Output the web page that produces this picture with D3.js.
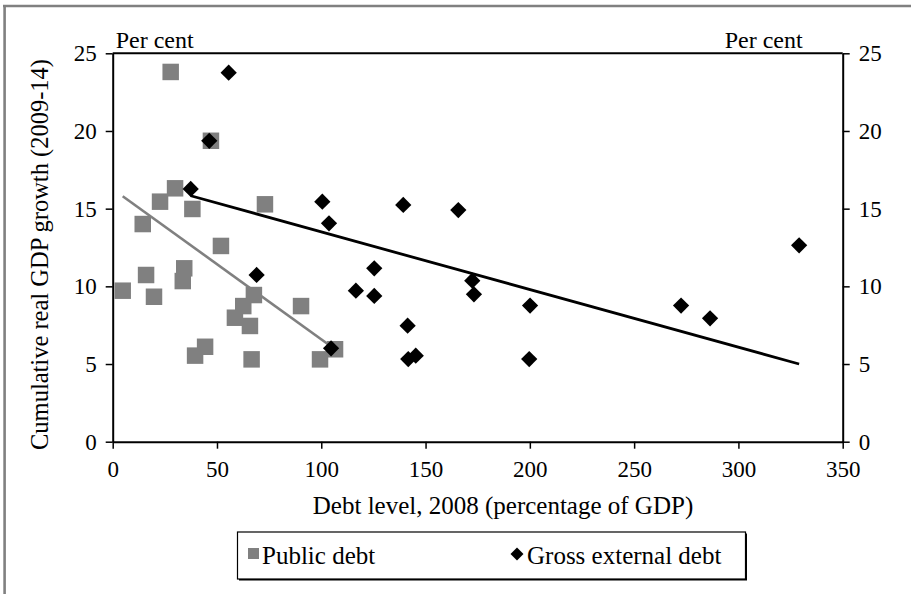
<!DOCTYPE html>
<html>
<head>
<meta charset="utf-8">
<script src="https://cdn.jsdelivr.net/npm/d3@7"></script>
<style>
  html, body { margin: 0; padding: 0; background: #fff; }
  svg { display: block; }
  text { font-family: "Liberation Serif", "Times New Roman", serif; fill: #000; }
</style>
</head>
<body>
<svg id="chart" width="911" height="594"></svg>
<script>
// ---- data ----
const publicDebtX = [4.8, 16.0, 19.8, 34.3, 33.6, 51.9, 67.7, 62.6, 58.6, 65.8, 90.3, 44.3, 39.5, 66.6, 99.4, 106.6, 27.8, 47.1, 29.9, 22.7, 38.2, 14.4, 73.0];
const publicDebtY = [9.72, 10.73, 9.33, 11.16, 10.34, 12.6, 9.44, 8.73, 7.98, 7.45, 8.73, 6.11, 5.54, 5.30, 5.30, 5.95, 23.8, 19.37, 16.31, 15.45, 14.98, 14.01, 15.28];
const externalDebtX = [55.6, 46.3, 37.4, 100.5, 103.7, 69.0, 104.7, 139.3, 165.7, 125.4, 116.6, 125.4, 172.4, 173.2, 200.1, 141.4, 141.7, 145.3, 199.7, 329.1, 272.5, 286.4];
const externalDebtY = [23.75, 19.37, 16.27, 15.45, 14.06, 10.73, 6.01, 15.24, 14.91, 11.16, 9.72, 9.38, 10.36, 9.49, 8.76, 7.47, 5.32, 5.54, 5.32, 12.64, 8.76, 7.94];
const publicTrendX = [4.8, 106.6];
const publicTrendY = [15.8, 5.95];
const externalTrendX = [37.4, 329.1];
const externalTrendY = [15.83, 5.0];
const xTicks = [0, 50, 100, 150, 200, 250, 300, 350];
const yTicks = [0, 5, 10, 15, 20, 25];
const xTitle = "Debt level, 2008 (percentage of GDP)";
const yTitle = "Cumulative real GDP growth (2009-14)";
const unitLabel = "Per cent";
const seriesNames = ["Public debt", "Gross external debt"];

// ---- layout ----
const svg = d3.select("#chart");
const L = 112.7, R = 842.7, T = 53.3, B = 441.7;
const x = d3.scaleLinear().domain([0, 350]).range([L, R]);
const y = d3.scaleLinear().domain([0, 25]).range([B, T]);
const grey = "#808080";

// outer frame (top and left edges visible)
svg.append("line").attr("x1", 3).attr("x2", 911).attr("y1", 6).attr("y2", 6)
  .attr("stroke", grey).attr("stroke-width", 2.6);
svg.append("line").attr("x1", 4.6).attr("x2", 4.6).attr("y1", 5).attr("y2", 594)
  .attr("stroke", grey).attr("stroke-width", 2.6);

const fs = 23;

// axes
const axStyle = g => {
  g.selectAll(".domain").attr("stroke", "#000").attr("stroke-width", 2);
  g.selectAll(".tick line").attr("stroke", "#000").attr("stroke-width", 1.5);
  g.selectAll(".tick text").attr("font-family", "Liberation Serif").attr("font-size", fs).attr("fill", "#000");
};
svg.append("g").attr("transform", `translate(0,${B})`)
  .call(d3.axisBottom(x).tickValues(xTicks).tickSize(7).tickPadding(12).tickSizeOuter(0))
  .call(axStyle);
svg.append("g").attr("transform", `translate(${L},0)`)
  .call(d3.axisLeft(y).tickValues(yTicks).tickSize(7).tickPadding(9).tickSizeOuter(0))
  .call(axStyle);
svg.append("g").attr("transform", `translate(${R},0)`)
  .call(d3.axisRight(y).tickValues(yTicks).tickSize(7).tickPadding(9).tickSizeOuter(0))
  .call(axStyle);
// top frame line
svg.append("line").attr("x1", L).attr("x2", R).attr("y1", T).attr("y2", T)
  .attr("stroke", "#000").attr("stroke-width", 2);

// unit labels
svg.append("text").attr("x", L + 3).attr("y", T - 5).attr("font-size", 24).text(unitLabel);
svg.append("text").attr("x", R - 40).attr("y", T - 5).attr("font-size", 24)
  .attr("text-anchor", "end").text(unitLabel);

// axis titles
svg.append("text").attr("x", 503).attr("y", 514).attr("font-size", 25)
  .attr("text-anchor", "middle").text(xTitle);
svg.append("text").attr("transform", `translate(48,${(T + B) / 2 + 7}) rotate(-90)`)
  .attr("font-size", 24.5).attr("text-anchor", "middle").text(yTitle);

// markers
const sq = d3.symbol().type(d3.symbolSquare).size(272);
const dm = d3.symbol().type(d3.symbolSquare).size(132);
const pubData = publicDebtX.map((v, i) => [v, publicDebtY[i]]);
const extData = externalDebtX.map((v, i) => [v, externalDebtY[i]]);

svg.append("g").selectAll("path").data(pubData).join("path")
  .attr("d", sq).attr("fill", grey)
  .attr("transform", d => `translate(${x(d[0])},${y(d[1])})`);

const line = d3.line().x(d => x(d[0])).y(d => y(d[1]));
svg.append("path").datum(publicTrendX.map((v, i) => [v, publicTrendY[i]]))
  .attr("d", line).attr("fill", "none").attr("stroke", grey).attr("stroke-width", 2.6);

svg.append("g").selectAll("path").data(extData).join("path")
  .attr("d", dm).attr("fill", "#000")
  .attr("transform", d => `translate(${x(d[0])},${y(d[1])}) rotate(45)`);

svg.append("path").datum(externalTrendX.map((v, i) => [v, externalTrendY[i]]))
  .attr("d", line).attr("fill", "none").attr("stroke", "#000").attr("stroke-width", 2.8);

// legend
const lg = svg.append("g");
const lx = 237.5, ly = 532, lw = 508, lh = 47;
lg.append("rect").attr("x", lx + 1.5).attr("y", ly + 1.5).attr("width", lw).attr("height", lh).attr("fill", "#000");
lg.append("rect").attr("x", lx).attr("y", ly).attr("width", lw).attr("height", lh)
  .attr("fill", "#fff").attr("stroke", "#000").attr("stroke-width", 1.2);
lg.append("rect").attr("x", 248).attr("y", 548).attr("width", 11).attr("height", 11).attr("fill", grey);
lg.append("text").attr("x", 262).attr("y", 563.5).attr("font-size", 25).text(seriesNames[0]);
lg.append("path").attr("d", d3.symbol().type(d3.symbolSquare).size(84))
  .attr("transform", `translate(517,554) rotate(45)`).attr("fill", "#000");
lg.append("text").attr("x", 527).attr("y", 563.5).attr("font-size", 25).text(seriesNames[1]);
</script>
</body>
</html>
